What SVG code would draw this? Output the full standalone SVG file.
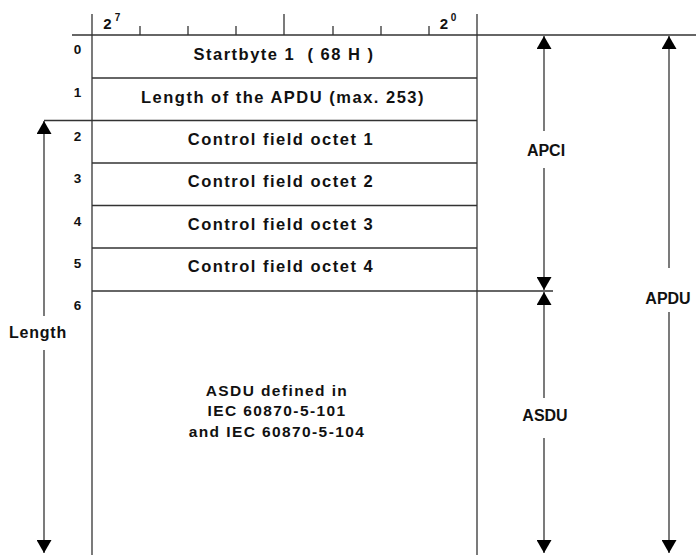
<svg xmlns="http://www.w3.org/2000/svg" width="696" height="555" viewBox="0 0 696 555">
<style>
.ln{stroke:#333;stroke-width:1.3;fill:none}
.ar{stroke:#333;stroke-width:1.3;fill:none}
.t{font-family:"Liberation Sans",Arial,sans-serif;font-weight:bold;fill:#111;text-anchor:middle}
.row{font-size:16.5px;letter-spacing:1.5px}
.num{font-size:13.5px}
.lbl{font-size:16px}
.body{font-size:15.5px;letter-spacing:1.4px}
</style>
<defs>
<marker id="ah" viewBox="0 0 13 15" refX="13" refY="7.5" markerWidth="13" markerHeight="15" markerUnits="userSpaceOnUse" orient="auto">
<path d="M0,0 L13,7.5 L0,15 Z" fill="#000"/>
</marker>
</defs>
<rect width="696" height="555" fill="#fff"/>
<g id="frame">
<line class="ln" x1="72" y1="35" x2="696" y2="35"/>
<line class="ln" x1="92" y1="14" x2="92" y2="555"/>
<line class="ln" x1="477" y1="14" x2="477" y2="555"/>
<line class="ln" x1="140" y1="26" x2="140" y2="35"/>
<line class="ln" x1="188" y1="26" x2="188" y2="35"/>
<line class="ln" x1="236" y1="26" x2="236" y2="35"/>
<line class="ln" x1="284" y1="14" x2="284" y2="35"/>
<line class="ln" x1="333" y1="26" x2="333" y2="35"/>
<line class="ln" x1="381" y1="26" x2="381" y2="35"/>
<line class="ln" x1="429" y1="26" x2="429" y2="35"/>
<text class="t" x="107.5" y="28.5" font-size="15">2</text>
<text class="t" x="117.5" y="21" font-size="10">7</text>
<text class="t" x="444" y="28.5" font-size="15">2</text>
<text class="t" x="453.5" y="21" font-size="10">0</text>
</g>
<g id="row0">
<text class="t num" x="77.5" y="54">0</text>
<text class="t row" x="284" y="60" xml:space="preserve">Startbyte 1  ( 68 H )</text>
</g>
<g id="row1">
<line class="ln" x1="92" y1="78" x2="477" y2="78"/>
<text class="t num" x="77.5" y="97">1</text>
<text class="t row" x="283" y="102.5">Length of the APDU (max. 253)</text>
</g>
<g id="row2">
<line class="ln" x1="44" y1="120.5" x2="477" y2="120.5"/>
<text class="t num" x="77.5" y="140.5">2</text>
<text class="t row" x="281" y="144.5">Control field octet 1</text>
</g>
<g id="row3">
<line class="ln" x1="92" y1="163" x2="477" y2="163"/>
<text class="t num" x="77.5" y="183">3</text>
<text class="t row" x="281" y="187">Control field octet 2</text>
</g>
<g id="row4">
<line class="ln" x1="92" y1="205.5" x2="477" y2="205.5"/>
<text class="t num" x="77.5" y="225.5">4</text>
<text class="t row" x="281" y="229.5">Control field octet 3</text>
</g>
<g id="row5">
<line class="ln" x1="92" y1="248" x2="477" y2="248"/>
<text class="t num" x="77.5" y="268">5</text>
<text class="t row" x="281" y="272">Control field octet 4</text>
</g>
<g id="row6">
<line class="ln" x1="92" y1="291" x2="553" y2="291"/>
<text class="t num" x="77.5" y="310">6</text>
<text class="t body" x="277" y="396">ASDU defined in</text>
<text class="t body" x="277" y="416">IEC 60870-5-101</text>
<text class="t body" x="277" y="437">and IEC 60870-5-104</text>
</g>
<g id="connectors">
<line class="ar" x1="544" y1="131" x2="544" y2="36" marker-end="url(#ah)"/>
<line class="ar" x1="544" y1="168" x2="544" y2="290" marker-end="url(#ah)"/>
<line class="ar" x1="544" y1="398" x2="544" y2="292" marker-end="url(#ah)"/>
<line class="ar" x1="544" y1="438" x2="544" y2="553" marker-end="url(#ah)"/>
<line class="ar" x1="669" y1="268" x2="669" y2="36" marker-end="url(#ah)"/>
<line class="ar" x1="669" y1="312" x2="669" y2="553" marker-end="url(#ah)"/>
<line class="ar" x1="44" y1="316" x2="44" y2="121" marker-end="url(#ah)"/>
<line class="ar" x1="44" y1="350" x2="44" y2="553" marker-end="url(#ah)"/>
</g>
<g id="labels">
<text class="t lbl" x="546" y="155.5">APCI</text>
<text class="t lbl" x="545" y="421">ASDU</text>
<text class="t lbl" x="668" y="304">APDU</text>
<text class="t lbl" x="38" y="337.5" letter-spacing="0.8">Length</text>
</g>
</svg>
